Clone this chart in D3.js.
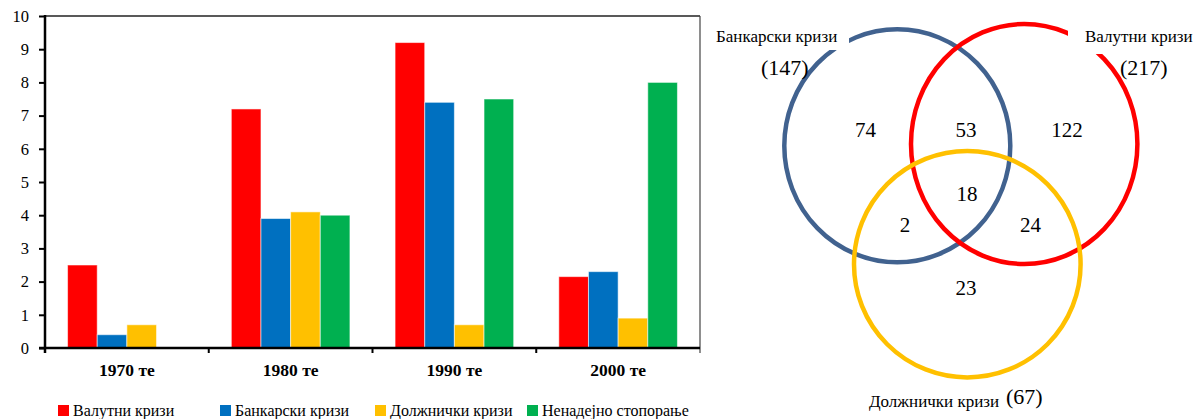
<!DOCTYPE html>
<html>
<head>
<meta charset="utf-8">
<script src="https://cdn.jsdelivr.net/npm/d3@7"></script>
<style>
  html, body { margin: 0; padding: 0; background: #fff; }
  svg { display: block; }
</style>
</head>
<body>
<svg id="chart" width="1200" height="419"></svg>
<script>
// Decades on the x axis
const decades = ["1970 те", "1980 те", "1990 те", "2000 те"];
// Crisis types (series)
const seriesNames = ["Валутни кризи", "Банкарски кризи", "Должнички кризи", "Ненадејно стопорање"];
const seriesColors = ["#FF0000", "#0070C0", "#FFC000", "#00B050"];
// Values per series, one per decade
const currencyCrises = [2.5, 7.2, 9.2, 2.15];
const bankingCrises = [0.4, 3.9, 7.4, 2.3];
const debtCrises = [0.7, 4.1, 0.7, 0.9];
const suddenStops = [0, 4.0, 7.5, 8.0];
const yTicks = [0, 1, 2, 3, 4, 5, 6, 7, 8, 9, 10];

// Venn diagram: sets, totals and region counts
const vennSets = ["Банкарски кризи", "Валутни кризи", "Должнички кризи"];
const vennTotals = [147, 217, 67];
const vennRegions = ["B", "V", "D", "BV", "BVD", "BD", "VD"];
const vennCounts = [74, 122, 23, 53, 18, 2, 24];

(function draw() {
  const SERIF = "'Liberation Serif'";
  const svg = d3.select("#chart");
  const seriesValues = [currencyCrises, bankingCrises, debtCrises, suddenStops];

  // ---------- grouped bar chart ----------
  const pLeft = 45, pRight = 700, pTop = 16, pBottom = 348;
  const x0 = d3.scaleBand().domain(decades).range([pLeft, pRight]).paddingInner(0.2756).paddingOuter(0.1378);
  const x1 = d3.scaleBand().domain(seriesNames).range([0, x0.bandwidth()]).padding(0);
  const y = d3.scaleLinear().domain([0, 10]).range([pBottom, pTop]);

  const rows = decades.map((d, i) => ({
    decade: d,
    values: seriesNames.map((s, j) => ({ series: s, color: seriesColors[j], value: seriesValues[j][i] }))
  }));

  const groups = svg.append("g").selectAll("g").data(rows).join("g")
    .attr("transform", d => `translate(${x0(d.decade)},0)`);
  groups.selectAll("rect").data(d => d.values.filter(v => v.value > 0)).join("rect")
    .attr("x", d => x1(d.series))
    .attr("y", d => y(d.value))
    .attr("width", x1.bandwidth())
    .attr("height", d => y(0) - y(d.value))
    .attr("fill", d => d.color)
    .attr("stroke", "rgba(255,255,255,0.55)")
    .attr("stroke-width", 1);

  // frame
  svg.append("line").attr("x1", pLeft).attr("x2", pRight).attr("y1", pTop).attr("y2", pTop)
    .attr("stroke", "#222").attr("stroke-width", 1.6);
  svg.append("line").attr("x1", pRight).attr("x2", pRight).attr("y1", pTop).attr("y2", pBottom + 5)
    .attr("stroke", "#444").attr("stroke-width", 1.2);

  // y axis
  const yAxis = svg.append("g").attr("transform", `translate(${pLeft},0)`)
    .call(d3.axisLeft(y).tickValues(yTicks).tickFormat(d3.format("d")).tickSize(6).tickPadding(10).tickSizeOuter(0));
  yAxis.attr("font-family", null).attr("font-size", null);
  yAxis.select(".domain").remove();
  yAxis.selectAll(".tick line").attr("stroke", "#000").attr("stroke-width", 2);
  yAxis.selectAll(".tick text").style("font-family", SERIF).style("font-size", "16.5px").attr("fill", "#000");
  svg.append("line").attr("x1", pLeft).attr("x2", pLeft).attr("y1", pTop - 1).attr("y2", pBottom + 5)
    .attr("stroke", "#000").attr("stroke-width", 2.5);

  // x axis
  const xAxis = svg.append("g").attr("transform", `translate(0,${pBottom})`)
    .call(d3.axisBottom(x0).tickSize(0).tickPadding(16));
  xAxis.attr("font-family", null).attr("font-size", null);
  xAxis.select(".domain").remove();
  xAxis.selectAll(".tick text").style("font-family", SERIF).style("font-size", "17.5px")
    .style("font-weight", "bold").attr("fill", "#000");
  svg.append("line").attr("x1", pLeft - 6).attr("x2", pRight).attr("y1", pBottom).attr("y2", pBottom)
    .attr("stroke", "#000").attr("stroke-width", 2.5);
  // group boundary ticks
  const boundaries = decades.slice(1).map(d => x0(d) - x0.step() * x0.paddingInner() / 2);
  svg.append("g").selectAll("line").data(boundaries).join("line")
    .attr("x1", d => d).attr("x2", d => d).attr("y1", pBottom).attr("y2", pBottom + 5)
    .attr("stroke", "#000").attr("stroke-width", 2);

  // legend
  const legendX = [58, 220, 375, 527];
  const legend = svg.append("g").selectAll("g").data(seriesNames).join("g")
    .attr("transform", (d, i) => `translate(${legendX[i]},405)`);
  legend.append("rect").attr("width", 11).attr("height", 11).attr("fill", (d, i) => seriesColors[i]);
  legend.append("text").attr("x", 15).attr("y", 11)
    .style("font-family", SERIF).style("font-size", "16px").text(d => d);

  // ---------- Venn diagram ----------
  const circles = [
    { cx: 897.3, cy: 145.8, rx: 113, ry: 116.5, color: "#41628F" },
    { cx: 1024.2, cy: 144, rx: 113.2, ry: 120, color: "#FF0000" },
    { cx: 967.3, cy: 264.2, rx: 113.3, ry: 113.2, color: "#FFC000" }
  ];
  const venn = svg.append("g");
  venn.selectAll("ellipse").data(circles).join("ellipse")
    .attr("cx", d => d.cx).attr("cy", d => d.cy).attr("rx", d => d.rx).attr("ry", d => d.ry)
    .attr("fill", "none").attr("stroke", d => d.color).attr("stroke-width", 4.5);

  // white boxes behind the set names
  venn.append("rect").attr("x", 705).attr("y", 0).attr("width", 144).attr("height", 50).attr("fill", "#fff");
  venn.append("rect").attr("x", 1068).attr("y", 0).attr("width", 132).attr("height", 54).attr("fill", "#fff");

  const nameSpots = [
    { x: 716, y: 42, tx: 761, ty: 75 },
    { x: 1085, y: 42, tx: 1120, ty: 75 },
    { x: 869, y: 407, tx: 1006, ty: 404 }
  ];
  venn.selectAll("text.setname").data(vennSets).join("text").attr("class", "setname")
    .attr("x", (d, i) => nameSpots[i].x).attr("y", (d, i) => nameSpots[i].y)
    .style("font-family", SERIF).style("font-size", "17px").text(d => d);
  venn.selectAll("text.settotal").data(vennTotals).join("text").attr("class", "settotal")
    .attr("x", (d, i) => nameSpots[i].tx).attr("y", (d, i) => nameSpots[i].ty)
    .style("font-family", SERIF).style("font-size", "22px").text(d => `(${d})`);

  const regionSpots = {
    B: [865.5, 137], V: [1067, 137], D: [966, 295],
    BV: [966, 137], BVD: [967, 201], BD: [905, 232], VD: [1030.5, 232]
  };
  venn.selectAll("text.count").data(vennRegions).join("text").attr("class", "count")
    .attr("x", d => regionSpots[d][0]).attr("y", d => regionSpots[d][1])
    .attr("text-anchor", "middle")
    .style("font-family", SERIF).style("font-size", "21px")
    .text((d, i) => vennCounts[i]);
})();
</script>
</body>
</html>
